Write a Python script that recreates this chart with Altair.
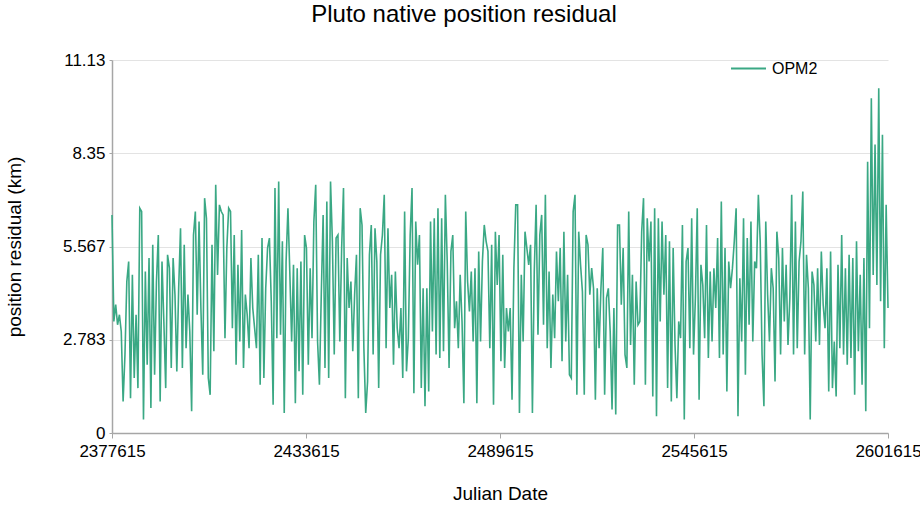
import altair as alt
import pandas as pd

TITLE = "Pluto native position residual"
SERIES = "OPM2"
JD_START = 2377615
JD_END = 2601615
X_TICKS = [2377615, 2433615, 2489615, 2545615, 2601615]
Y_TICKS = [0, 2.7835, 5.567, 8.3505, 11.134]
Y_LABELS = ["0", "2.783", "5.567", "8.35", "11.13"]

SEG1 = [6.51, 3.33, 3.83, 3.23, 3.53, 3.03, 0.94, 2.34, 4.52, 5.12, 1.04, 4.72, 1.64, 3.53, 1.34,
        6.71, 6.61, 0.40, 4.82, 2.04, 5.22, 0.75, 5.62, 1.74, 4.52, 5.91, 0.94, 5.12, 3.33, 1.34,
        5.32, 4.92, 1.94, 5.22, 4.13, 1.84, 4.32, 6.11, 1.94, 5.62, 2.53, 4.13, 3.03, 0.65, 5.91,
        6.61, 3.53, 6.31, 3.73, 1.74, 7.01, 6.41, 1.64]
SEG2 = [1.14, 5.62, 2.44, 7.41, 4.72, 6.81, 6.61, 6.51, 2.83, 5.52, 6.71, 6.61, 3.13, 5.91, 2.04,
        5.02, 2.73, 6.06, 1.94, 4.13, 3.53, 2.53, 5.22, 3.73, 3.13, 2.53, 5.32, 1.44, 5.82, 1.64,
        4.32, 5.52, 5.82, 3.93, 0.84, 7.31, 2.83, 7.51, 2.93, 5.72, 0.60, 5.12, 6.71, 4.82, 2.73,
        5.02, 0.89, 4.92, 1.84, 5.12, 1.14, 5.91, 5.52, 2.04, 4.92]
SEG3 = [2.83, 6.31, 7.41, 2.73, 1.44, 4.13, 6.51, 1.94, 6.91, 1.64, 7.51, 5.72, 2.34, 5.82, 5.91,
        2.73, 5.52, 7.31, 1.04, 5.22, 3.73, 4.52, 2.44, 4.13, 5.32, 1.04, 6.71, 6.21, 2.53, 0.60,
        1.54, 5.32, 6.21, 2.34, 6.11, 5.12, 1.34, 5.32, 5.91, 7.11, 2.53, 6.11, 3.73, 4.72, 2.04,
        4.82, 3.13, 2.53, 3.73, 1.64, 6.61, 1.84, 2.83, 5.91, 7.31, 1.19, 6.31, 5.02]
SEG4 = [5.91, 1.34, 4.32, 0.80, 4.32, 1.24, 6.31, 3.03, 6.41, 2.34, 6.71, 2.24, 6.41, 2.44, 7.11,
        5.12, 1.94, 5.42, 5.91, 3.13, 3.93, 2.53, 4.72, 3.33, 0.89, 6.61, 4.52, 3.63, 4.82, 2.73,
        4.92, 0.89, 5.42, 2.73, 5.12, 6.21, 5.72, 5.42, 2.53, 5.62, 0.84, 6.01, 4.42, 5.91, 2.14,
        5.32, 1.94, 3.73, 3.03, 3.73, 0.99, 4.92, 6.81]
SEG5 = [6.81, 0.60, 4.72, 2.73, 6.01, 5.52, 5.02, 5.62, 0.60, 4.82, 6.81, 2.93, 5.91, 6.51, 3.23,
        7.11, 2.53, 4.82, 1.94, 4.13, 2.83, 5.42, 3.93, 5.52, 2.14, 6.01, 2.73, 4.72, 1.74, 1.64,
        6.61, 7.11, 1.14, 6.01, 5.02, 4.22, 1.14, 5.91, 5.62, 4.13, 4.92, 4.32, 0.99, 4.32, 2.53,
        4.32, 5.52, 1.14, 4.03, 4.32, 3.03, 0.70, 3.73, 0.55, 6.21]
SEG6 = [6.21, 3.83, 5.52, 2.34, 1.94, 6.61, 2.63, 4.72, 1.44, 4.52, 3.23, 3.33, 6.01, 7.01, 1.44,
        6.41, 5.12, 6.31, 1.09, 6.71, 0.50, 6.41, 3.33, 6.31, 4.13, 5.91, 1.34, 5.72, 0.94, 5.52,
        2.63, 1.04, 3.33, 2.83, 6.21, 0.40, 5.12, 5.52, 2.53, 6.41, 2.34, 4.03, 6.71, 0.99, 5.02,
        4.42, 2.83, 6.21, 2.24, 4.82, 2.73, 4.92]
SEG7 = [3.73, 5.82, 2.24, 6.91, 2.34, 5.52, 1.24, 5.12, 4.32, 4.92, 5.72, 6.71, 0.50, 4.62, 2.73,
        6.41, 1.74, 5.82, 3.23, 6.31, 2.73, 5.12, 4.92, 7.11, 5.72, 2.34, 0.80, 6.31, 4.13, 2.73,
        4.92, 4.32, 1.54, 6.01, 5.22, 2.34, 5.52, 3.33, 5.02, 2.63, 4.03, 7.11, 2.34, 6.31, 2.53,
        5.12, 5.72, 7.21, 2.34, 5.32, 4.32, 0.40, 4.82]
SEG8 = [4.42, 2.73, 4.92, 2.63, 5.42, 3.83, 3.13, 4.92, 1.24, 5.42, 1.34, 2.73, 1.09, 5.02, 2.53,
        5.91, 2.34, 4.92, 2.04, 5.32, 2.24, 5.22, 1.14, 5.72, 2.44, 4.72, 1.44, 5.22, 0.65, 8.10,
        3.13, 9.99, 4.72, 8.61, 4.42, 10.29, 3.93, 8.90, 2.53, 6.81, 3.73]

RESIDUAL_KM = SEG1 + SEG2 + SEG3 + SEG4 + SEG5 + SEG6 + SEG7 + SEG8
n = len(RESIDUAL_KM)
step = (JD_END - JD_START) / (n - 1)
df = pd.DataFrame({
    "jd": [JD_START + i * step for i in range(n)],
    "residual": RESIDUAL_KM,
    "series": [SERIES] * n,
})

label_expr = " : ".join(
    f"abs(datum.value - {v}) < 0.01 ? '{lab}'" for v, lab in zip(Y_TICKS, Y_LABELS)
) + " : ''"

FONT = "Liberation Sans"

chart = alt.Chart(df).mark_line(strokeWidth=1.6).encode(
    x=alt.X("jd:Q",
            scale=alt.Scale(domain=[JD_START, JD_END], nice=False, zero=False),
            axis=alt.Axis(title="Julian Date", values=X_TICKS, format="d", grid=False,
                          labelFontSize=17, titleFontSize=19, titleFontWeight="normal",
                          titlePadding=25, labelPadding=5, tickSize=5,
                          domainColor="#a6a6a6", domainWidth=1.5, tickColor="#a6a6a6",
                          labelColor="#000", titleColor="#000",
                          labelFont=FONT, titleFont=FONT, labelFlush=False)),
    y=alt.Y("residual:Q",
            scale=alt.Scale(domain=[0, 11.134], nice=False),
            axis=alt.Axis(title="position residual (km)", values=Y_TICKS, labelExpr=label_expr,
                          labelFontSize=17, titleFontSize=19, titleFontWeight="normal",
                          titlePadding=38, labelPadding=4, tickSize=3,
                          domainColor="#a6a6a6", domainWidth=1.5, tickColor="#a6a6a6",
                          gridColor="#e3e3e3", labelColor="#000", titleColor="#000",
                          labelFont=FONT, titleFont=FONT)),
    color=alt.Color("series:N",
                    scale=alt.Scale(domain=[SERIES], range=["#3aa884"]),
                    legend=alt.Legend(title=None, orient="none", legendX=618, legendY=-10,
                                      symbolType="stroke", symbolSize=1225,
                                      symbolStrokeWidth=2, labelFontSize=16,
                                      labelFont=FONT, labelColor="#000", padding=0,
                                      labelOffset=5)),
).properties(
    width=776,
    height=373,
    title=alt.TitleParams(TITLE, fontSize=24, font=FONT, fontWeight="normal",
                          color="#000", anchor="middle", dx=-36, offset=23),
    autosize=alt.AutoSizeParams(type="none"),
    padding={"left": 112, "top": 60, "right": 32, "bottom": 87},
).configure_view(stroke=None)

chart.save("out.html", embed_options={"renderer": "svg", "actions": False})
